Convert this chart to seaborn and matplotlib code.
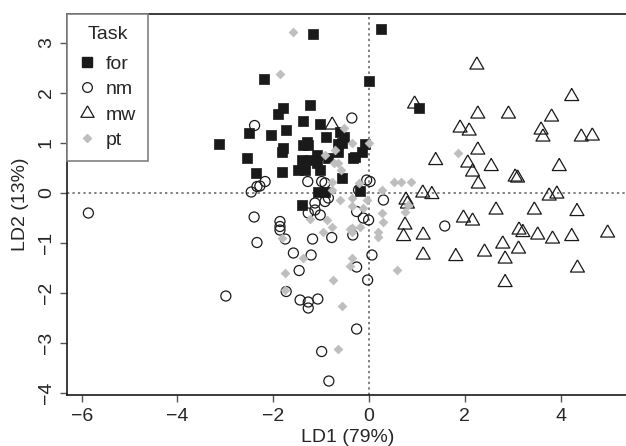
import matplotlib
matplotlib.use("Agg")
import matplotlib.pyplot as plt
from matplotlib.lines import Line2D
import seaborn as sns
import pandas as pd

# LDA scores
for_x = [-1.17, 0.24, -2.20, -0.01, 1.04, -1.23, -1.80, -1.90, -1.38, -1.02,
         -1.73, -2.05, -2.50, -0.90, -1.30, -0.61, -0.52, -0.64, -0.08, -1.80,
         -3.13, -2.55, -2.37, -1.37, -1.27, -0.57, -1.81, -1.40, -1.23, -1.09,
         -0.85, -0.64, -0.33, -0.15, -1.82, -1.48, -1.34, -1.02, -0.57, -1.06,
         -0.92, -0.18, -1.40, -0.29, -1.09]
for_y = [3.18, 3.27, 2.27, 2.24, 1.70, 1.76, 1.70, 1.58, 1.44, 1.37,
         1.25, 1.16, 1.20, 1.12, 1.02, 1.22, 1.12, 0.97, 0.97, 0.89,
         0.97, 0.69, 0.39, 0.95, 0.95, 0.99, 0.82, 0.65, 0.65, 0.75,
         0.69, 0.82, 0.69, 0.82, 0.42, 0.45, 0.45, 0.45, 0.29, 0.02,
         0.02, 0.03, -0.25, 0.72, 0.59]

nm_x = [-5.86, -2.39, -2.46, -2.34, -2.40, -2.34, -2.99, -0.36, -2.28, -2.17,
        -1.28, -0.99, -0.92, -0.85, -0.92, -1.13, -0.22, -0.05, 0.02, 0.30,
        -0.26, -0.12, -0.01, 1.58, -1.86, -1.86, -1.86, -1.75, -1.18, -0.78,
        -1.02, -0.34, -1.58, -1.21, 0.06, -1.13, -1.27, -0.26, -1.46, -0.03,
        -1.73, -1.44, -1.27, -1.27, -1.07, -0.26, -0.99, -0.84]
nm_y = [-0.41, 1.34, 0.01, 0.12, -0.49, -1.00, -2.07, 1.49, 0.13, 0.22,
        0.22, 0.22, 0.19, -0.11, -0.18, -0.21, 0.05, 0.25, 0.22, -0.15,
        -0.38, -0.51, -0.55, -0.67, -0.58, -0.68, -0.75, -0.93, -0.93, -0.90,
        -0.45, -0.85, -1.21, -1.25, -1.25, -0.35, -0.41, -1.49, -1.56, -1.75,
        -1.98, -2.15, -2.19, -2.31, -2.13, -2.73, -3.18, -3.77]

mw_x = [-0.77, 0.95, 2.25, 4.23, 2.27, 2.91, 3.81, 1.90, 2.09, 3.59,
        3.63, 4.43, 4.66, 2.27, 2.06, 2.16, 2.55, 3.97, 3.05, 3.10,
        2.28, 3.76, 3.92, 2.65, 3.45, 4.34, 1.97, 2.16, 3.13, 3.21,
        3.52, 3.83, 4.23, 4.98, 2.79, 3.12, 1.81, 2.41, 2.84, 4.35,
        2.84, 1.39, 1.12, 1.31, 0.77, 0.80, 0.75, 0.72, 1.13, 1.13]
mw_y = [1.35, 1.77, 2.55, 1.92, 1.57, 1.57, 1.51, 1.29, 1.23, 1.25,
        1.11, 1.11, 1.13, 0.85, 0.59, 0.41, 0.52, 0.52, 0.31, 0.29,
        0.17, -0.07, -0.03, -0.35, -0.35, -0.38, -0.51, -0.57, -0.75, -0.80,
        -0.85, -0.93, -0.88, -0.81, -1.03, -1.13, -1.28, -1.19, -1.33, -1.51,
        -1.80, 0.64, -0.01, -0.04, -0.15, -0.23, -0.65, -0.88, -0.85, -1.25]

pt_x = [-1.58, -1.85, -0.52, -0.36, 0.00, 1.85, -0.71, -0.92, -0.74, -0.64,
        -0.58, -0.78, -0.22, -0.36, -0.60, -0.36, 0.27, 0.51, 0.66, 0.88,
        -0.05, -0.12, 0.27, 0.82, 0.30, -0.36, -0.78, 0.75, -1.23, -0.87,
        -0.78, -0.97, -0.40, -0.36, -0.19, 0.19, 0.19, -1.82, -1.37, -0.36,
        -0.40, -1.75, -0.76, 0.58, -1.75, -0.57, -0.65]
pt_y = [3.22, 2.38, 1.30, 0.99, 1.00, 0.79, 0.85, 0.75, 0.59, 0.59,
        0.45, 0.22, 0.19, -0.11, -0.15, -0.27, 0.05, 0.22, 0.22, 0.22,
        -0.15, -0.31, -0.41, -0.25, -0.58, -0.71, 0.05, -0.38, -0.53, -0.55,
        -0.69, -0.78, -0.73, -0.78, -0.69, -0.78, -0.89, -0.91, -1.31, -1.31,
        -1.46, -1.61, -1.75, -1.55, -1.95, -2.27, -3.13]

tasks = ["for", "nm", "mw", "pt"]

df = pd.concat([
    pd.DataFrame({"LD1": for_x, "LD2": for_y, "Task": "for"}),
    pd.DataFrame({"LD1": nm_x, "LD2": nm_y, "Task": "nm"}),
    pd.DataFrame({"LD1": mw_x, "LD2": mw_y, "Task": "mw"}),
    pd.DataFrame({"LD1": pt_x, "LD2": pt_y, "Task": "pt"}),
], ignore_index=True)

sns.set_style("ticks")
plt.rcParams["font.family"] = ["Liberation Sans", "DejaVu Sans"]
plt.rcParams["font.size"] = 14

tri = [(0, 1), (-0.866, -0.5), (0.866, -0.5), (0, 1)]

# marker styles per task
styles = {
    "for": dict(marker="s", s=50, color="#1a1a1a", edgecolor="#1a1a1a", linewidth=0.5),
    "nm": dict(marker="o", s=52, facecolor="none", edgecolor="#1a1a1a", linewidth=0.9),
    "mw": dict(marker=tri, s=135, facecolor="none", edgecolor="#1a1a1a", linewidth=0.9),
    "pt": dict(marker="D", s=20, color="#bebebe", edgecolor="#bebebe", linewidth=0.5),
}

fig = plt.figure(figsize=(6.26, 4.46), dpi=100)
ax = fig.add_axes([0.1075, 0.1143, 0.8953, 0.8543])

ax.axvline(0, color="#808080", linestyle=(0, (1.2, 1.6)), linewidth=1.4, zorder=1)
ax.axhline(0, color="#808080", linestyle=(0, (1.2, 1.6)), linewidth=1.4, zorder=1)

for t in ["nm", "mw", "for", "pt"]:
    sub = df[df["Task"] == t]
    sns.scatterplot(data=sub, x="LD1", y="LD2", ax=ax, legend=False, zorder=3, **styles[t])

ax.set_xlim(-6.30, 5.40)
ax.set_ylim(-4.05, 3.57)
ax.set_xticks([-6, -4, -2, 0, 2, 4])
ax.set_yticks([-4, -3, -2, -1, 0, 1, 2, 3])
ax.set_xlabel("LD1 (79%)", fontsize=14, labelpad=3)
ax.set_ylabel("LD2 (13%)", fontsize=14, labelpad=6)
ax.tick_params(axis="both", direction="out", length=5, width=1, color="#555555",
               labelsize=14, pad=4)
plt.setp(ax.get_yticklabels(), rotation=90, va="center")
for side in ["left", "bottom", "top", "right"]:
    ax.spines[side].set_color("#1a1a1a")
    ax.spines[side].set_linewidth(1.2)

handles = [
    Line2D([], [], linestyle="none", marker="s", markersize=7, color="#1a1a1a"),
    Line2D([], [], linestyle="none", marker="o", markersize=7, markerfacecolor="none",
           markeredgecolor="#1a1a1a", markeredgewidth=0.9),
    Line2D([], [], linestyle="none", marker=tri, markersize=11, markerfacecolor="none",
           markeredgecolor="#1a1a1a", markeredgewidth=0.9),
    Line2D([], [], linestyle="none", marker="D", markersize=4.5, color="#bebebe"),
]
leg = ax.legend(handles, tasks, title="Task", loc="upper left", bbox_to_anchor=(0, 1),
                borderaxespad=0, fancybox=False, frameon=True, fontsize=14,
                title_fontsize=14, handlelength=0.8, handletextpad=0.6,
                labelspacing=0.4, borderpad=0.6)
leg._legend_box.sep = 9
leg.get_frame().set_edgecolor("#808080")
leg.get_frame().set_linewidth(1.2)
leg.get_frame().set_alpha(1)

fig.savefig("out.png", dpi=100)
